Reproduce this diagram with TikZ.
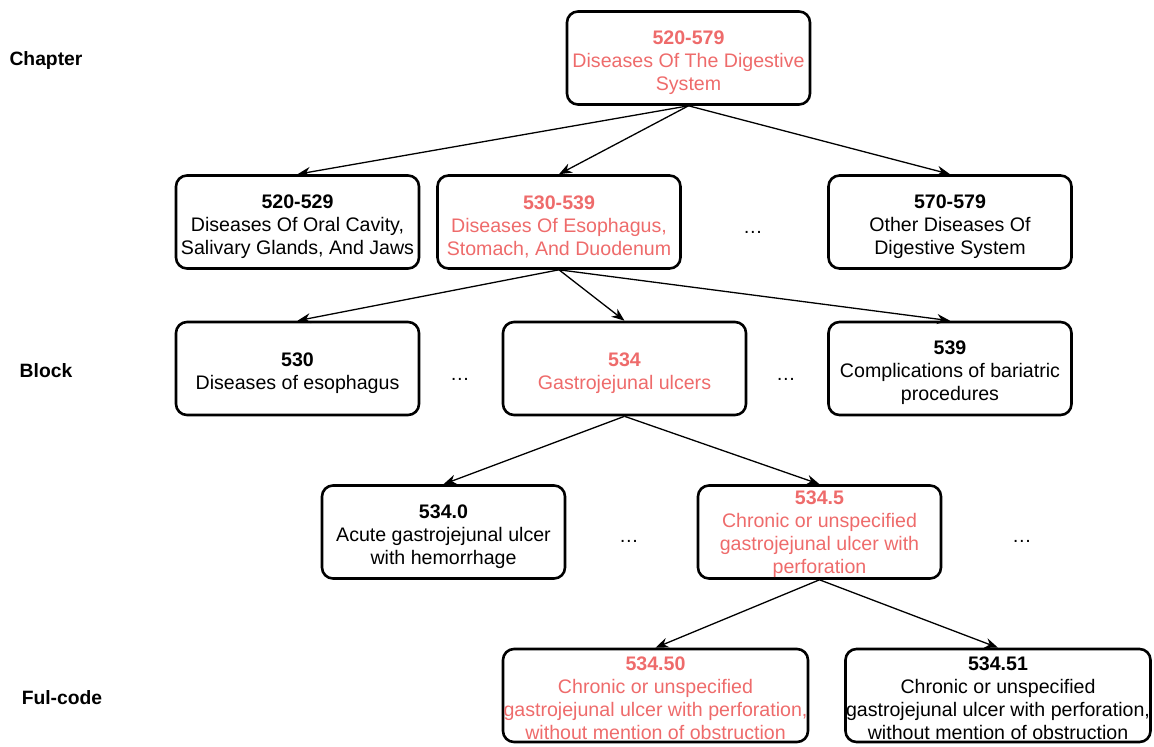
\documentclass[tikz,border=0pt]{standalone}
\usepackage{fontspec}
\setmainfont{Liberation Sans}
\usetikzlibrary{arrows.meta}
\definecolor{hl}{RGB}{238,107,107}
\newcommand\tpad{\rule{0pt}{23pt}}
\newcommand\tpadb{\rule{0pt}{19pt}}
\begin{document}
\begin{tikzpicture}[x=1pt,y=-1pt,
 box/.style={draw, line width=2.6pt, rounded corners=11pt, minimum width=243pt, minimum height=93pt, align=center, font=\fontsize{19.6}{23}\selectfont, inner sep=0pt},
 hlbox/.style={box, text=hl},
 wide/.style={minimum width=305pt},
 arr/.style={-{Stealth[length=13pt,width=10pt]}, line width=1.3pt},
 lvl/.style={font=\fontsize{19.3}{23}\selectfont\bfseries},
 dotsn/.style={font=\fontsize{19.6}{23}\selectfont}]
\useasboundingbox (0,0) rectangle (1154,747);
% levels
\node[lvl] (lchap) at (46,61) {Chapter};
\node[lvl] (lblock) at (46,371) {Block};
\node[lvl] (lfull) at (62,698) {Ful-code};
% boxes
\node[hlbox] (top) at (688.5,58) {\tpad\textbf{520-579}\\Diseases Of The Digestive\\System};
\node[box] (A) at (297.5,222) {\tpad\textbf{520-529}\\Diseases Of Oral Cavity,\\Salivary Glands, And Jaws};
\node[hlbox] (B) at (559,222) {\tpad\textbf{530-539}\\Diseases Of Esophagus,\\Stomach, And Duodenum};
\node[box] (C) at (950,222) {\tpad\textbf{570-579}\\Other Diseases Of\\Digestive System};
\node[box] (b530) at (297.5,368.5) {\tpad\textbf{530}\\Diseases of esophagus};
\node[hlbox] (b534) at (624.5,368.5) {\tpad\textbf{534}\\Gastrojejunal ulcers};
\node[box] (b539) at (950,368.5) {\tpad\textbf{539}\\Complications of bariatric\\procedures};
\node[box] (c0) at (443.5,532) {\tpad\textbf{534.0}\\Acute gastrojejunal ulcer\\with hemorrhage};
\node[hlbox] (c5) at (819.5,532) {\tpadb\textbf{534.5}\\Chronic or unspecified\\gastrojejunal ulcer with\\perforation};
\node[hlbox,wide] (d50) at (655.5,695.5) {\tpadb\textbf{534.50}\\Chronic or unspecified\\gastrojejunal ulcer with perforation,\\without mention of obstruction};
\node[box,wide] (d51) at (998,695.5) {\tpadb\textbf{534.51}\\Chronic or unspecified\\gastrojejunal ulcer with perforation,\\without mention of obstruction};
% dots
\node[dotsn] (e1) at (753,232) {\dots};
\node[dotsn] (e2) at (460,379) {\dots};
\node[dotsn] (e3) at (786,379) {\dots};
\node[dotsn] (e4) at (629,541) {\dots};
\node[dotsn] (e5) at (1022,541) {\dots};
% arrows
\draw[arr] (top.south) -- (A.north);
\draw[arr] (top.south) -- (B.north);
\draw[arr] (top.south) -- (C.north);
\draw[arr] (B.south) -- (b530.north);
\draw[arr] (B.south) -- (b534.north);
\draw[arr] (B.south) -- (b539.north);
\draw[arr] (b534.south) -- (c0.north);
\draw[arr] (b534.south) -- (c5.north);
\draw[arr] (c5.south) -- (d50.north);
\draw[arr] (c5.south) -- (d51.north);
\end{tikzpicture}
\end{document}
